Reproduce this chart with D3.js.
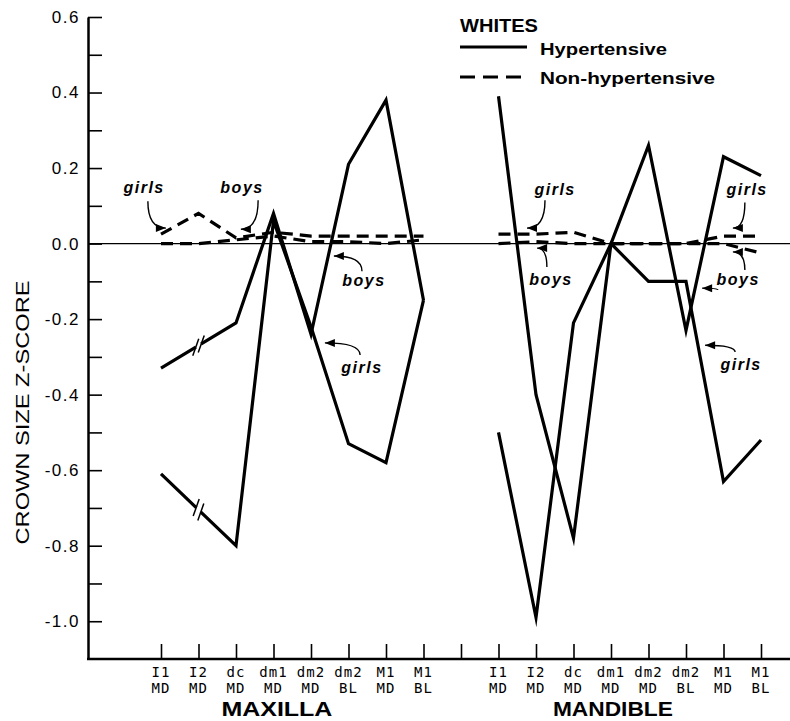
<!DOCTYPE html>
<html>
<head>
<meta charset="utf-8">
<script src="https://cdn.jsdelivr.net/npm/d3@7"></script>
<style>
  body { margin: 0; background: #fff; }
  svg { display: block; }
</style>
</head>
<body>
<script>
// tooth labels (two lines under each tick)
const teethTop = ["I1", "I2", "dc", "dm1", "dm2", "dm2", "M1", "M1"];
const teethBottom = ["MD", "MD", "MD", "MD", "MD", "BL", "MD", "BL"];
const jaws = ["MAXILLA", "MANDIBLE"];

// crown size z-scores, whites (null = not plotted, line is broken there)
const maxHypBoys   = [-0.33, null, -0.21, 0.08, -0.24, 0.21, 0.38, -0.15];
const maxHypGirls  = [-0.61, null, -0.80, 0.06, -0.22, -0.53, -0.58, -0.15];
const maxNonBoys   = [0.00, 0.00, 0.01, 0.02, 0.005, 0.005, 0.00, 0.01];
const maxNonGirls  = [0.025, 0.08, 0.015, 0.03, 0.02, 0.02, 0.02, 0.02];
const mandHypBoys  = [0.39, -0.40, -0.78, 0.00, 0.26, -0.23, 0.23, 0.18];
const mandHypGirls = [-0.50, -0.99, -0.21, 0.00, -0.10, -0.10, -0.63, -0.52];
const mandNonBoys  = [0.00, 0.005, 0.00, 0.00, 0.00, 0.00, 0.00, -0.025];
const mandNonGirls = [0.025, 0.025, 0.03, 0.00, 0.00, 0.00, 0.02, 0.02];

const yTickValues = [0.6, 0.5, 0.4, 0.3, 0.2, 0.1, 0.0, -0.1, -0.2, -0.3, -0.4, -0.5, -0.6, -0.7, -0.8, -0.9, -1.0];
const yLabelled = [0.6, 0.4, 0.2, 0.0, -0.2, -0.4, -0.6, -0.8, -1.0];

// "girls"/"boys" call-outs: text at [slot, value], arrows from [slot, value] to [slot, value]
const notes = [
  { text: "girls", at: [-0.45, 0.134], arrows: [[[-0.35, 0.112], [0.13, 0.041]]] },
  { text: "boys",  at: [2.16, 0.134],  arrows: [[[2.59, 0.115], [2.13, 0.038]]] },
  { text: "boys",  at: [5.41, -0.113], arrows: [[[5.36, -0.073], [4.61, -0.033]]] },
  { text: "girls", at: [5.36, -0.343], arrows: [[[5.31, -0.295], [4.37, -0.263]]] },
  { text: "girls", at: [10.51, 0.128], arrows: [[[10.24, 0.115], [9.76, 0.041]]] },
  { text: "boys",  at: [10.4, -0.11],  arrows: [[[10.29, -0.062], [10.03, -0.012]]] },
  { text: "girls", at: [15.63, 0.128], arrows: [[[15.57, 0.109], [15.25, 0.041]]] },
  { text: "boys",  at: [15.39, -0.11], arrows: [[[15.57, -0.07], [15.25, -0.022]], [[14.85, -0.123], [14.43, -0.118]]] },
  { text: "girls", at: [15.47, -0.335], arrows: [[[15.31, -0.287], [14.51, -0.269]]] }
];

const width = 790;
const height = 721;

const svg = d3.select("body").append("svg")
  .attr("width", width)
  .attr("height", height)
  .style("font-family", "'Liberation Sans', Arial, sans-serif");

svg.append("rect").attr("width", width).attr("height", height).attr("fill", "#fff");

// x keys: 8 maxilla teeth, one empty slot, 8 mandible teeth
const keys = [];
jaws.forEach((jaw, j) => {
  teethTop.forEach((t, i) => keys.push(jaw + "-" + i));
  if (j === 0) keys.push("gap");
});

const x = d3.scalePoint().domain(keys).range([161, 761]);
const slot = s => x.range()[0] + s * x.step();

const y = d3.scaleLinear().domain([-1.1, 0.6]).range([659, 17]);

const axisLeftX = 88;
const axisBottomY = y(-1.1);

// zero reference line
svg.append("line")
  .attr("x1", axisLeftX).attr("x2", width)
  .attr("y1", y(0)).attr("y2", y(0))
  .attr("stroke", "#000").attr("stroke-width", 1.2);

// y axis
const yAxis = svg.append("g")
  .attr("transform", `translate(${axisLeftX},0)`)
  .call(d3.axisLeft(y)
    .tickValues(yTickValues)
    .tickSize(-14)
    .tickSizeOuter(0)
    .tickPadding(8)
    .tickFormat(d => yLabelled.some(v => Math.abs(v - d) < 1e-9) ? d3.format(".1f")(d).replace("−", "-") : ""));

yAxis.select(".domain").attr("stroke-width", 2.5);
yAxis.selectAll(".tick line").attr("stroke-width", 1.6);
yAxis.selectAll(".tick text")
  .attr("font-size", 17)
  .attr("letter-spacing", 1.5)
  .attr("fill", "#000")
  .attr("font-family", "'Liberation Sans', Arial, sans-serif");

// x axis
svg.append("line")
  .attr("x1", axisLeftX - 1).attr("x2", width)
  .attr("y1", axisBottomY).attr("y2", axisBottomY)
  .attr("stroke", "#000").attr("stroke-width", 2.5);

const xAxis = svg.append("g")
  .attr("transform", `translate(0,${axisBottomY})`)
  .call(d3.axisTop(x).tickSize(15).tickFormat(""));
xAxis.select(".domain").remove();
xAxis.selectAll(".tick line").attr("stroke-width", 1.6);

// two-line tooth labels
const toothLabels = [];
jaws.forEach((jaw, j) => {
  teethTop.forEach((t, i) => toothLabels.push({ key: jaw + "-" + i, top: t, bottom: teethBottom[i] }));
});

const lab = svg.append("g")
  .attr("font-family", "'DejaVu Sans Mono', monospace")
  .attr("font-size", 14)
  .attr("text-anchor", "middle");

lab.selectAll(".lab-top")
  .data(toothLabels)
  .join("text")
    .attr("class", "lab-top")
    .attr("x", d => x(d.key))
    .attr("y", axisBottomY + 18)
    .attr("letter-spacing", 1)
    .text(d => d.top);

lab.selectAll(".lab-bottom")
  .data(toothLabels)
  .join("text")
    .attr("class", "lab-bottom")
    .attr("x", d => x(d.key))
    .attr("y", axisBottomY + 34)
    .attr("letter-spacing", 1)
    .text(d => d.bottom);

// jaw titles
const jawTitles = [
  { text: jaws[0], s: 3.09, w: 111 },
  { text: jaws[1], s: 12.05, w: 120 }
];
svg.selectAll(".jaw")
  .data(jawTitles)
  .join("text")
    .attr("class", "jaw")
    .attr("x", d => slot(d.s) - d.w / 2)
    .attr("y", axisBottomY + 57)
    .attr("font-size", 21)
    .attr("font-weight", "bold")
    .attr("textLength", d => d.w)
    .attr("lengthAdjust", "spacingAndGlyphs")
    .text(d => d.text);

// y axis title
svg.append("text")
  .attr("transform", `translate(22,${(280 + 545) / 2}) rotate(-90)`)
  .attr("x", -132)
  .attr("dy", "0.36em")
  .attr("font-size", 19)
  .attr("textLength", 264)
  .attr("lengthAdjust", "spacingAndGlyphs")
  .text("CROWN SIZE Z-SCORE");

// series
const series = [
  { jaw: 0, values: maxHypBoys, dashed: false },
  { jaw: 0, values: maxHypGirls, dashed: false },
  { jaw: 0, values: maxNonBoys, dashed: true },
  { jaw: 0, values: maxNonGirls, dashed: true },
  { jaw: 1, values: mandHypBoys, dashed: false },
  { jaw: 1, values: mandHypGirls, dashed: false },
  { jaw: 1, values: mandNonBoys, dashed: true },
  { jaw: 1, values: mandNonGirls, dashed: true }
];

series.forEach(s => {
  s.points = s.values
    .map((v, i) => ({ key: jaws[s.jaw] + "-" + i, v: v }))
    .filter(p => p.v !== null);
});

const line = d3.line()
  .x(d => x(d.key))
  .y(d => y(d.v));

svg.append("g")
  .selectAll("path")
  .data(series)
  .join("path")
    .attr("fill", "none")
    .attr("stroke", "#000")
    .attr("stroke-width", 3.2)
    .attr("stroke-linejoin", "miter")
    .attr("stroke-miterlimit", 8)
    .attr("stroke-dasharray", d => d.dashed ? "12 7" : null)
    .attr("d", d => line(d.points));

// break marks where the line skips a tooth
series.forEach(s => {
  s.values.forEach((v, i) => {
    if (v !== null || i === 0) return;
    const p0 = [x(jaws[s.jaw] + "-" + (i - 1)), y(s.values[i - 1])];
    const p1 = [x(jaws[s.jaw] + "-" + (i + 1)), y(s.values[i + 1])];
    const mx = (p0[0] + p1[0]) / 2;
    const my = (p0[1] + p1[1]) / 2;
    const ang = Math.atan2(p1[1] - p0[1], p1[0] - p0[0]);
    const ux = Math.cos(ang), uy = Math.sin(ang);
    const g = svg.append("g");
    g.append("line")
      .attr("x1", mx - ux * 3).attr("y1", my - uy * 3)
      .attr("x2", mx + ux * 3).attr("y2", my + uy * 3)
      .attr("stroke", "#fff").attr("stroke-width", 5);
    [-3.2, 3.2].forEach(o => {
      const cx = mx + ux * o, cy = my + uy * o;
      g.append("line")
        .attr("x1", cx - 3).attr("y1", cy + 8.5)
        .attr("x2", cx + 3).attr("y2", cy - 8.5)
        .attr("stroke", "#000").attr("stroke-width", 1.5);
    });
  });
});

// legend
const legend = svg.append("g");
legend.append("text")
  .attr("x", 460).attr("y", 32)
  .attr("font-size", 19).attr("font-weight", "bold")
  .attr("textLength", 78).attr("lengthAdjust", "spacingAndGlyphs")
  .text("WHITES");

const legendItems = [
  { label: "Hypertensive", dashed: false, w: 127 },
  { label: "Non-hypertensive", dashed: true, w: 175 }
];
legend.selectAll(".leg-line")
  .data(legendItems)
  .join("line")
    .attr("class", "leg-line")
    .attr("x1", 460).attr("x2", 527)
    .attr("y1", (d, i) => 47 + i * 30)
    .attr("y2", (d, i) => 47 + i * 30)
    .attr("stroke", "#000").attr("stroke-width", 3)
    .attr("stroke-dasharray", d => d.dashed ? "15 8" : null);
legend.selectAll(".leg-text")
  .data(legendItems)
  .join("text")
    .attr("class", "leg-text")
    .attr("x", 540)
    .attr("y", (d, i) => 55 + i * 29)
    .attr("font-size", 17).attr("font-weight", "bold")
    .attr("textLength", d => d.w).attr("lengthAdjust", "spacingAndGlyphs")
    .text(d => d.label);

// call-outs
const ann = svg.append("g");
notes.forEach(n => {
  ann.append("text")
    .attr("x", slot(n.at[0]))
    .attr("y", y(n.at[1]))
    .attr("text-anchor", "middle")
    .attr("font-size", 16)
    .attr("font-style", "italic")
    .attr("font-weight", "bold")
    .attr("letter-spacing", 1.5)
    .text(n.text);
  n.arrows.forEach(a => {
    const s = [slot(a[0][0]), y(a[0][1])];
    const e = [slot(a[1][0]), y(a[1][1])];
    const c = [s[0], e[1]];
    const path = d3.path();
    path.moveTo(s[0], s[1]);
    path.quadraticCurveTo(c[0], c[1], e[0], e[1]);
    ann.append("path")
      .attr("d", path.toString())
      .attr("fill", "none")
      .attr("stroke", "#000")
      .attr("stroke-width", 1.4);
    const ang = Math.atan2(e[1] - c[1], e[0] - c[0]);
    const L = 10, W = 4;
    const bx = e[0] - Math.cos(ang) * L, by = e[1] - Math.sin(ang) * L;
    const px = -Math.sin(ang) * W, py = Math.cos(ang) * W;
    ann.append("path")
      .attr("d", `M${e[0]},${e[1]}L${bx + px},${by + py}L${bx - px},${by - py}Z`)
      .attr("fill", "#000");
  });
});
</script>
</body>
</html>
